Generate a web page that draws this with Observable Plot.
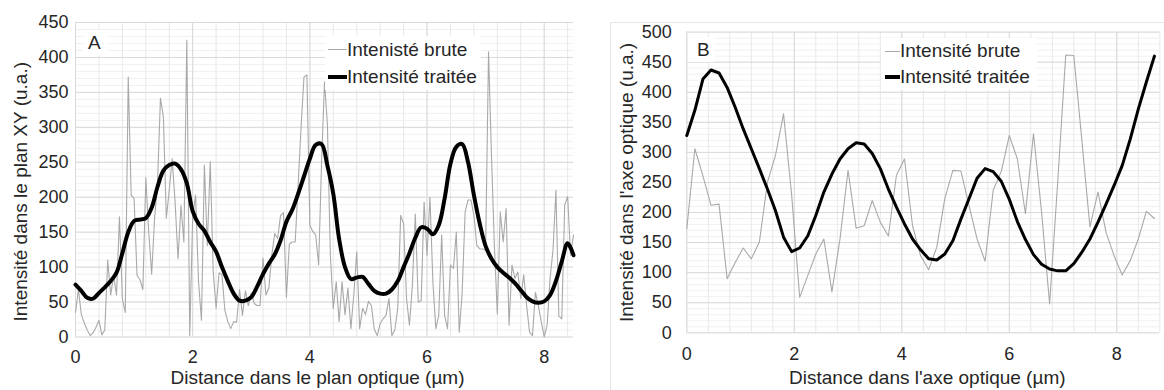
<!DOCTYPE html>
<html><head><meta charset="utf-8">
<script src="https://cdn.jsdelivr.net/npm/d3@7"></script>
<script src="https://cdn.jsdelivr.net/npm/@observablehq/plot@0.6"></script>
<style>
html,body{margin:0;padding:0;background:#fff;}
#wrap{position:relative;width:1164px;height:390px;overflow:hidden;font-family:"Liberation Sans",Arial,Helvetica,sans-serif;color:#262626;}
#wrap svg{position:absolute;top:0;}
.leg{position:absolute;background:#fff;font-size:19px;}
.leg .row{display:flex;align-items:center;white-space:nowrap;}
.leg .sw{display:inline-block;}
.tag{position:absolute;background:#fff;font-size:19px;}
.border{position:absolute;border:1px solid #e6e6e6;}
</style></head>
<body><div id="wrap"></div>
<script>
// ---------- Panel A : XY plane (sampling step 0.05 µm raw, 0.1 µm processed)
const stepRawA = 0.05;
const rawA = [
  35,68,32,20,10,2,6,14,24,3,10,110,60,88,60,172,55,35,372,203,
  198,88,82,68,228,150,90,170,220,342,315,170,210,255,193,112,188,136,425,2,
  172,203,79,24,246,131,251,95,41,92,89,38,22,12,22,21,68,31,66,45,
  63,48,45,45,113,60,70,117,148,141,174,178,57,133,136,136,217,300,372,375,
  160,151,146,103,250,365,303,117,41,79,22,79,32,70,12,60,122,12,41,32,
  51,45,11,2,19,26,31,55,2,10,41,174,162,55,17,74,176,50,52,193,
  117,200,79,12,31,146,31,12,103,98,150,7,64,179,196,196,174,131,126,126,
  124,408,260,130,33,179,136,184,17,103,84,93,55,89,45,7,2,64,45,22,
  0,17,84,124,210,30,26,189,201,117,146
];
const stepProcA = 0.1;
const procA = [
  75,66,56,55,63,71,80,92,120,150,
  166,168,170,185,215,238,246,248,240,220,
  180,162,152,136,122,100,80,62,52,52,
  57,72,90,105,118,138,165,182,205,230,
  255,275,276,245,205,140,100,83,85,86,
  76,66,62,62,68,80,100,120,142,157,
  155,147,160,198,248,272,276,250,203,162,
  130,112,100,92,85,77,67,57,51,49,
  51,60,80,108,134,117
];
const xTicksA = [0, 2, 4, 6, 8];
const yTicksA = [0, 50, 100, 150, 200, 250, 300, 350, 400, 450];

// ---------- Panel B : optical axis (sampling step 0.15 µm)
const stepB = 0.15;
const rawB = [
  173,306,261,212,214,90,117,141,123,151,
  250,295,364,230,59,95,131,156,68,156,
  270,174,178,220,184,161,262,289,178,128,
  105,142,223,270,269,212,156,119,237,268,
  328,289,198,331,201,48,250,462,461,320,
  176,234,167,128,96,120,156,202,190
];
const procB = [
  328,370,422,437,432,408,375,339,306,273,
  239,203,159,135,141,161,195,234,264,289,
  306,316,314,298,273,239,209,181,156,138,
  123,121,131,153,189,223,257,273,268,252,
  222,185,155,130,114,106,103,103,115,134,
  156,184,214,245,278,322,372,417,460
];
const xTicksB = [0, 2, 4, 6, 8];
const yTicksB = [0, 50, 100, 150, 200, 250, 300, 350, 400, 450, 500];

const seriesNames = ["Intensité brute", "Intensité traitée"];
const legendA = ["Intenisté brute", "Intensité traitée"];

const toRows = (arr, step) => arr.map((v, i) => ({x: +(i * step).toFixed(3), y: v}));

const fontFam = '"Liberation Sans", Arial, Helvetica, sans-serif';

function panel(o) {
  const minorX = d3.range(0, o.xMax + 1e-9, 0.4);
  const minorY = d3.range(0, o.yMax + 1e-9, 10);
  return Plot.plot({
    width: o.W, height: o.H,
    marginLeft: o.mL, marginRight: o.mR, marginTop: o.mT, marginBottom: o.mB,
    x: {domain: [0, o.xMax], axis: null, label: null},
    y: {domain: [0, o.yMax], axis: null, label: null},
    style: {fontFamily: fontFam, fontSize: "18px", color: "#262626", background: "transparent", overflow: "visible"},
    marks: [
      Plot.ruleY(minorY, {stroke: "#f0f0f0", strokeWidth: 1}),
      Plot.ruleX(minorX, {stroke: "#e8e8e8", strokeWidth: 1}),
      Plot.ruleY(o.yTicks, {stroke: "#d9d9d9", strokeWidth: 1}),
      Plot.ruleX(o.xTicks, {stroke: "#dadada", strokeWidth: 1}),
      Plot.axisX({ticks: o.xTicks, tickSize: 0, tickPadding: o.xPad, tickFormat: d => String(d), label: null}),
      Plot.axisY({ticks: o.yTicks, tickSize: 0, tickPadding: o.yPad, tickFormat: d => String(d), label: null}),
      Plot.line(o.raw, {x: "x", y: "y", stroke: "#a9a9a9", strokeWidth: 1.1, strokeLinejoin: "round"}),
      Plot.line(o.proc, {x: "x", y: "y", stroke: "#000", strokeWidth: o.procWidth, curve: o.procCurve, strokeLinejoin: "round", strokeLinecap: "round"}),
      Plot.text([o.xTitle], {text: d => d, frameAnchor: "bottom", textAnchor: "middle", lineAnchor: "middle", dx: o.xTitleDx, dy: o.xTitleDy, fontSize: 19, fill: "#262626"}),
      Plot.text([o.yTitle], {text: d => d, frameAnchor: "left", textAnchor: "middle", lineAnchor: "middle", rotate: -90, dx: o.yTitleDx, dy: o.yTitleDy, fontSize: 19, fill: "#262626"})
    ]
  });
}

const wrap = document.getElementById("wrap");

// faint chart-area border of panel B
const bd = document.createElement("div");
bd.className = "border";
Object.assign(bd.style, {left: "610px", top: "22px", width: "600px", height: "420px"});
wrap.appendChild(bd);

const svgA = panel({
  W: 582, H: 390, mL: 75, mR: 9, mT: 22, mB: 53.5,
  xMax: 8.5, yMax: 450, xTicks: xTicksA, yTicks: yTicksA,
  raw: toRows(rawA, stepRawA), proc: toRows(procA, stepProcA),
  procCurve: "catmull-rom", procWidth: 4,
  xTitle: "Distance dans le plan optique (µm)", xTitleDx: -7, xTitleDy: 41,
  yTitle: "Intensité dans le plan XY (u.a.)", yTitleDx: -55, yTitleDy: 12,
  xPad: 13, yPad: 7
});
svgA.style.left = "0px";
wrap.appendChild(svgA);

const svgB = panel({
  W: 582, H: 390, mL: 104.3, mR: 4.7, mT: 31.6, mB: 57.7,
  xMax: 8.8, yMax: 500, xTicks: xTicksB, yTicks: yTicksB,
  raw: toRows(rawB, stepB), proc: toRows(procB, stepB),
  procCurve: "linear", procWidth: 3,
  xTitle: "Distance dans l'axe optique (µm)", xTitleDx: 4, xTitleDy: 45,
  yTitle: "Intensité dans l'axe optique (u.a.)", yTitleDx: -60, yTitleDy: 0,
  xPad: 14, yPad: 15
});
svgB.style.left = "582px";
wrap.appendChild(svgB);

// legends
function legend(left, top, w, lineH, swLeft, swW, labels) {
  const d = document.createElement("div");
  d.className = "leg";
  Object.assign(d.style, {left: left + "px", top: top + "px", width: w + "px"});
  const styles = [{h: 1, c: "#a9a9a9"}, {h: 4, c: "#000"}];
  labels.forEach((lab, i) => {
    const r = document.createElement("div");
    r.className = "row";
    r.style.height = lineH + "px";
    const sw = document.createElement("span");
    sw.className = "sw";
    Object.assign(sw.style, {marginLeft: swLeft + "px", width: swW + "px", height: styles[i].h + "px", background: styles[i].c});
    const t = document.createElement("span");
    t.textContent = lab;
    r.appendChild(sw); r.appendChild(t);
    d.appendChild(r);
  });
  wrap.appendChild(d);
}
legend(325, 36, 156, 27, 3, 19, legendA);
legend(881, 38, 156, 26, 4, 15, seriesNames);

function tag(txt, left, top, w, h, pad) {
  const d = document.createElement("div");
  d.className = "tag";
  d.textContent = txt;
  Object.assign(d.style, {left: left + "px", top: top + "px", width: w + "px", height: h + "px", lineHeight: h + "px", paddingLeft: pad + "px", boxSizing: "border-box"});
  wrap.appendChild(d);
}
tag("A", 83, 30, 26, 26, 5);
tag("B", 688, 37, 27, 25, 9);
</script></body></html>
